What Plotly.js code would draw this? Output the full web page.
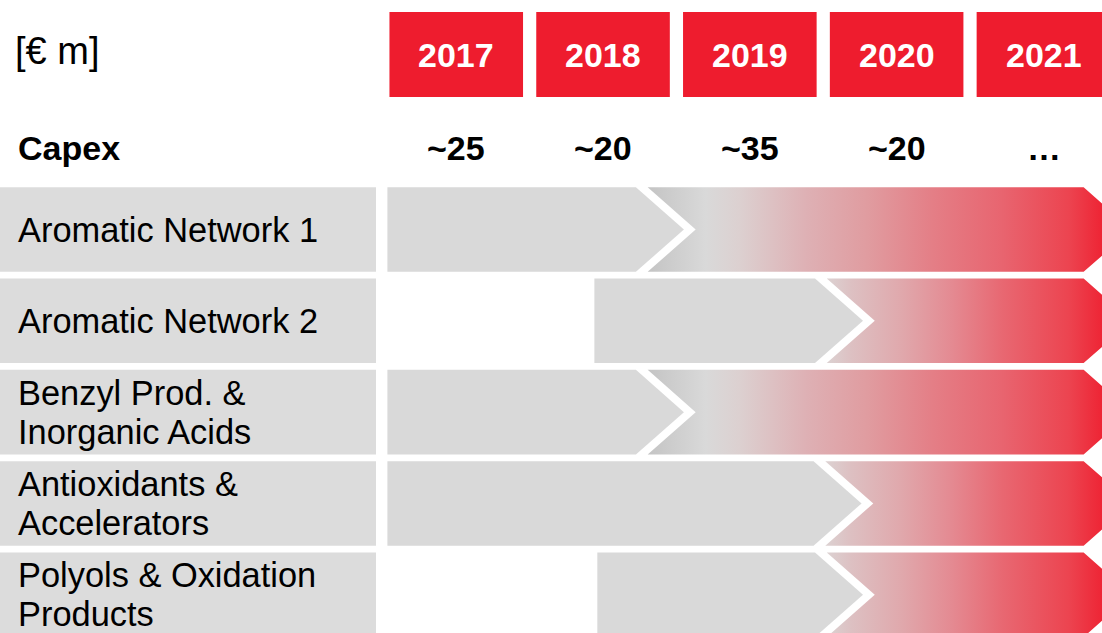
<!DOCTYPE html>
<html>
<head>
<meta charset="utf-8">
<script src="https://cdn.plot.ly/plotly-3.0.1.min.js"></script>
<style>html,body{margin:0;padding:0;background:#fff;}#chart{width:1102px;height:633px;}</style>
</head>
<body>
<div id="chart"></div>
<script>
// ---- data ----
const years = [2017, 2018, 2019, 2020, 2021];
const capex = ['~25', '~20', '~35', '~20', '…'];
const unitLabel = '[€ m]';
const capexLabel = 'Capex';
const rowLabels = [
  'Aromatic Network 1',
  'Aromatic Network 2',
  'Benzyl Prod. &\nInorganic Acids',
  'Antioxidants &\nAccelerators',
  'Polyols & Oxidation\nProducts'
];
// phase 1 (grey chevron) start / end, phase 2 (gradient chevron) end, in years
const phase1Start = [2017.03, 2018.44, 2017.03, 2017.03, 2018.46];
const phase1End   = [2019.05, 2020.27, 2019.05, 2020.26, 2020.27];
const phase2End   = [2022.10, 2022.10, 2022.10, 2022.10, 2022.10];

// ---- style ----
const RED = '#ee1c2e';
const GREY = '#d9d9d9';
const LABEL_GREY = '#dcdcdc';
const FONT = 'Liberation Sans, Arial, sans-serif';
const H = 0.463;      // half bar height (row units)
const D = 0.327;      // chevron depth (years)
const GAP = 0.08;     // white gap between chevrons (years)

const scaleLong = [
  [0, '#c4c4c4'], [0.12, '#d9d9d9'], [0.19, '#dcd0d0'], [0.33, '#deb0b4'],
  [0.454, '#e09ca0'], [0.59, '#e47e86'], [0.73, '#e86570'], [0.87, '#ec4450'],
  [0.94, '#ee2434'], [1, '#f01c2c']
];
const scaleShort = [
  [0, '#dcd2d2'], [0.082, '#ddc0c2'], [0.246, '#e0a8ac'], [0.41, '#e48a92'],
  [0.574, '#e86872'], [0.793, '#ec4450'], [0.908, '#ee2434'], [1, '#f01c2c']
];

const traces = [];
const shapes = [];
const annotations = [];

rowLabels.forEach((lab, i) => {
  // grey chevron
  const x0 = phase1Start[i], xt = phase1End[i];
  traces.push({
    type: 'scatter', mode: 'lines', fill: 'toself', fillcolor: GREY,
    line: {width: 0, color: GREY}, hoverinfo: 'skip',
    x: [x0, xt - D, xt, xt - D, x0, x0],
    y: [i - H, i - H, i, i + H, i + H, i - H]
  });
  // gradient chevron with notch
  const xs = xt + GAP, xe = phase2End[i];
  const long = (xs - D) < 2019.5;
  traces.push({
    type: 'scatter', mode: 'lines', fill: 'toself',
    fillgradient: {type: 'horizontal', colorscale: long ? scaleLong : scaleShort, start: xs - D, stop: xe},
    line: {width: 0, color: 'rgba(0,0,0,0)'}, hoverinfo: 'skip',
    x: [xs - D, xe - D, xe, xe - D, xs - D, xs, xs - D],
    y: [i - H, i - H, i, i + H, i + H, i, i - H]
  });
  // label box
  shapes.push({
    type: 'rect', xref: 'paper', yref: 'y', x0: 0, x1: 376 / 1102,
    y0: i - H, y1: i + H, fillcolor: LABEL_GREY, line: {width: 0}, layer: 'below'
  });
  const lines = lab.split('\n');
  lines.forEach((ln, k) => {
    const off = lines.length === 1 ? 0 : (k === 0 ? -0.214 : 0.214);
    annotations.push({
      xref: 'paper', yref: 'y', x: 16 / 1102, y: i + off,
      xanchor: 'left', yanchor: 'middle', showarrow: false,
      text: ln, font: {family: FONT, size: 34.4, color: '#000'}
    });
  });
});

// header
years.forEach((yr, j) => {
  shapes.push({
    type: 'rect', xref: 'x', yref: 'y', x0: yr + 0.044, x1: yr + 0.954,
    y0: -2.382, y1: -1.451, fillcolor: RED, line: {width: 0}, layer: 'below'
  });
  annotations.push({
    xref: 'x', yref: 'y', x: yr + 0.5, y: -1.917, showarrow: false,
    xanchor: 'center', yanchor: 'middle',
    text: '<b>' + yr + '</b>', font: {family: FONT, size: 34, color: '#fff'}
  });
  annotations.push({
    xref: 'x', yref: 'y', x: yr + 0.5, y: -0.893, showarrow: false,
    xanchor: 'center', yanchor: 'middle',
    text: '<b>' + capex[j] + '</b>', font: {family: FONT, size: 34, color: '#000'}
  });
});
annotations.push({
  xref: 'paper', yref: 'y', x: 13 / 1102, y: -1.96, showarrow: false,
  xanchor: 'left', yanchor: 'middle',
  text: unitLabel, font: {family: FONT, size: 38, color: '#000'}
});
annotations.push({
  xref: 'paper', yref: 'y', x: 16 / 1102, y: -0.893, showarrow: false,
  xanchor: 'left', yanchor: 'middle',
  text: '<b>' + capexLabel + '</b>', font: {family: FONT, size: 34, color: '#000'}
});

const layout = {
  width: 1102, height: 633,
  margin: {l: 0, r: 0, t: 0, b: 0, pad: 0},
  paper_bgcolor: '#fff', plot_bgcolor: '#fff',
  showlegend: false,
  xaxis: {range: [2014.391, 2021.898], visible: false, fixedrange: true},
  yaxis: {range: [4.419, -2.514], visible: false, fixedrange: true},
  shapes: shapes,
  annotations: annotations
};

Plotly.newPlot('chart', traces, layout, {displayModeBar: false, staticPlot: true});
</script>
</body>
</html>
